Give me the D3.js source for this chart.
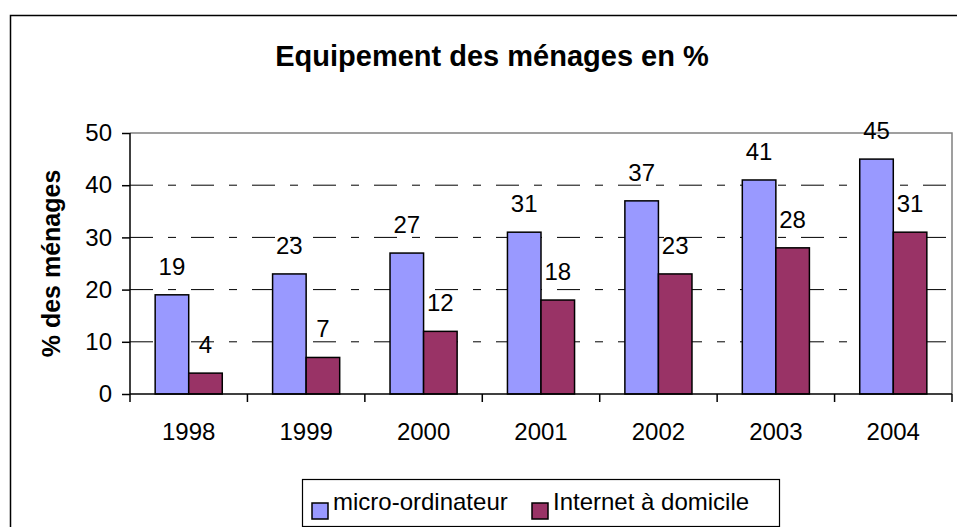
<!DOCTYPE html>
<html>
<head>
<meta charset="utf-8">
<script src="https://cdn.jsdelivr.net/npm/d3@7"></script>
<style>
  html, body { margin: 0; padding: 0; background: #fff; }
  svg { display: block; }
  text { font-family: Arial, "Liberation Sans", sans-serif; fill: #000; }
</style>
</head>
<body>
<svg id="chart" width="957" height="527"></svg>
<script>
// Household equipment, share of households (%)
const years = ["1998", "1999", "2000", "2001", "2002", "2003", "2004"];
const seriesNames = ["micro-ordinateur", "Internet à domicile"];
const microValues = [19, 23, 27, 31, 37, 41, 45];
const internetValues = [4, 7, 12, 18, 23, 28, 31];
const yTicks = [0, 10, 20, 30, 40, 50];
const seriesColors = ["#9999FF", "#993366"];

const titleText = "Equipement des ménages en %";
const yTitleText = "% des ménages";

const svg = d3.select("#chart");

// Outer chart frame
svg.append("rect")
  .attr("x", 10.5).attr("y", 15.5)
  .attr("width", 960).attr("height", 540)
  .attr("fill", "#fff").attr("stroke", "#000").attr("stroke-width", 1.5);

const plot = { left: 130, right: 952, top: 133, bottom: 394 };

const x = d3.scaleBand().domain(years).range([plot.left, plot.right]).padding(0);
const xs = d3.scaleBand().domain(seriesNames).range([0, x.bandwidth()])
  .paddingInner(0).paddingOuter(0.75);
const y = d3.scaleLinear().domain([0, 50]).range([plot.bottom, plot.top]);

const rows = years.map((yr, i) => ({ year: yr, values: [microValues[i], internetValues[i]] }));

// Dashed gridlines
svg.append("g").selectAll("line")
  .data(yTicks.filter(t => t > 0 && t < 50))
  .join("line")
  .attr("x1", plot.left).attr("x2", plot.right)
  .attr("y1", d => y(d)).attr("y2", d => y(d))
  .attr("stroke", "#000").attr("stroke-width", 1)
  .attr("stroke-dasharray", "23,15,8,15");

// Plot area border (top and right)
svg.append("path")
  .attr("d", `M${plot.left},${y(50)}H${plot.right}V${plot.bottom}`)
  .attr("fill", "none").attr("stroke", "#808080").attr("stroke-width", 1.5);

// Bars
const groups = svg.append("g").selectAll("g")
  .data(rows).join("g")
  .attr("transform", d => `translate(${x(d.year)},0)`);

groups.selectAll("rect")
  .data(d => d.values.map((v, k) => ({ name: seriesNames[k], v, k })))
  .join("rect")
  .attr("x", d => xs(d.name))
  .attr("y", d => y(d.v))
  .attr("width", xs.bandwidth())
  .attr("height", d => y(0) - y(d.v))
  .attr("fill", d => seriesColors[d.k])
  .attr("stroke", "#000").attr("stroke-width", 1.5);

// Value labels
groups.selectAll("text")
  .data(d => d.values.map((v, k) => ({ name: seriesNames[k], v, k })))
  .join("text")
  .attr("x", d => xs(d.name) + xs.bandwidth() / 2)
  .attr("y", d => y(d.v) - 20)
  .attr("text-anchor", "middle")
  .style("font-size", "24px")
  .text(d => d.v);

// Y axis
const yAxis = svg.append("g")
  .attr("transform", `translate(${plot.left},0)`)
  .call(d3.axisLeft(y).tickValues(yTicks).tickSize(8).tickPadding(10).tickFormat(d3.format("d")));
yAxis.select(".domain").attr("stroke", "#000").attr("stroke-width", 1.5)
  .attr("d", `M0,${plot.top}V${plot.bottom}`);
yAxis.selectAll(".tick line").attr("stroke", "#000").attr("stroke-width", 1.5);
yAxis.selectAll(".tick text").style("font-size", "24px").attr("fill", "#000")
  .style("font-family", "Arial, 'Liberation Sans', sans-serif");

// X axis with ticks at category boundaries
const xAxis = svg.append("g").attr("transform", `translate(0,${plot.bottom})`);
xAxis.append("line")
  .attr("x1", plot.left).attr("x2", plot.right)
  .attr("stroke", "#000").attr("stroke-width", 1.5);
const boundaries = years.map(d => x(d)).concat([x(years[years.length - 1]) + x.bandwidth()]);
xAxis.selectAll("line.tick")
  .data(boundaries).join("line").attr("class", "tick")
  .attr("x1", d => d).attr("x2", d => d)
  .attr("y1", 0).attr("y2", 8)
  .attr("stroke", "#000").attr("stroke-width", 1.5);
xAxis.selectAll("text")
  .data(years).join("text")
  .attr("x", d => x(d) + x.bandwidth() / 2)
  .attr("y", 46)
  .attr("text-anchor", "middle")
  .style("font-size", "24px")
  .text(d => d);

// Titles
svg.append("text")
  .attr("x", 492).attr("y", 66)
  .attr("text-anchor", "middle")
  .style("font-size", "29px").style("font-weight", "bold")
  .text(titleText);

svg.append("text")
  .attr("transform", `translate(60,${(plot.top + plot.bottom) / 2}) rotate(-90)`)
  .attr("text-anchor", "middle")
  .style("font-size", "25px").style("font-weight", "bold")
  .text(yTitleText);

// Legend
const legend = svg.append("g");
legend.append("rect")
  .attr("x", 302.5).attr("y", 479.5).attr("width", 477).attr("height", 47)
  .attr("fill", "#fff").attr("stroke", "#000").attr("stroke-width", 1.2);
const legendX = [312, 532];
seriesNames.forEach((name, k) => {
  legend.append("rect")
    .attr("x", legendX[k]).attr("y", 503).attr("width", 16).attr("height", 16)
    .attr("fill", seriesColors[k]).attr("stroke", "#000").attr("stroke-width", 1.5);
  legend.append("text")
    .attr("x", legendX[k] + 21).attr("y", 510)
    .style("font-size", "24px")
    .text(name);
});
</script>
</body>
</html>
